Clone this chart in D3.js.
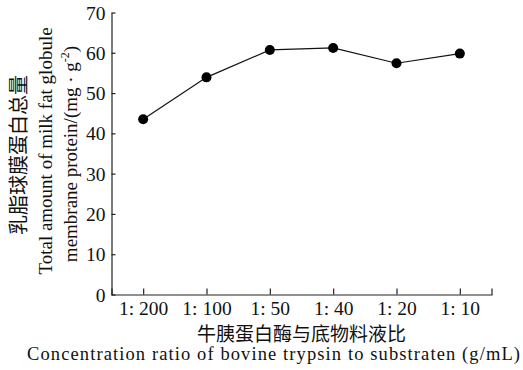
<!DOCTYPE html>
<html><head><meta charset="utf-8">
<script src="https://cdn.jsdelivr.net/npm/d3@7"></script>
<style>body{margin:0;background:#fff;} svg{display:block;}</style>
</head><body>
<svg id="c" width="523" height="370"></svg>
<script>
const categories = ["1: 200", "1: 100", "1: 50", "1: 40", "1: 20", "1: 10"];
const values = [43.5, 53.9, 60.7, 61.2, 57.4, 59.8];
const yTicks = [0, 10, 20, 30, 40, 50, 60, 70];
const xTitleCn = "牛胰蛋白酶与底物料液比";
const xTitleEn = "Concentration ratio of bovine trypsin to substraten (g/mL)";
const yTitleCn = "乳脂球膜蛋白总量";
const yTitleEn1 = "Total amount of milk fat globule";
const yTitleEn2a = "membrane protein/(mg · g";
const yTitleEn2sup = "-2";

const serif = "'Liberation Serif','Times New Roman',serif";
const cjk = "'Noto Sans CJK SC',sans-serif";
const svg = d3.select("#c");
const x = d3.scalePoint().domain(categories).range([111.5, 491.5]).padding(0.5);
const y = d3.scaleLinear().domain([0, 70]).range([294.5, 12.5]);
const ink = "#222";

const gy = svg.append("g").attr("transform", "translate(111.5,0)")
  .call(d3.axisLeft(y).tickValues(yTicks).tickSizeInner(-4).tickSizeOuter(0).tickPadding(6));
const gx = svg.append("g").attr("transform", "translate(0,294.5)")
  .call(d3.axisBottom(x).tickSizeInner(-6).tickSizeOuter(-6).tickPadding(10));
[gx, gy].forEach(g => {
  g.selectAll("path,line").attr("stroke", ink).attr("stroke-width", 1.2);
  g.selectAll("text").attr("fill", "#111").style("font-family", serif).style("font-size", "19.5px");
});
gx.selectAll("text").attr("y", 6.5);
gy.selectAll("text").attr("dy", "0.34em");

const line = d3.line().x((d, i) => x(categories[i])).y(d => y(d));
svg.append("path").datum(values).attr("d", line).attr("fill", "none").attr("stroke", "#111").attr("stroke-width", 1.2);
svg.selectAll("circle.pt").data(values).join("circle").attr("class", "pt")
  .attr("cx", (d, i) => x(categories[i])).attr("cy", d => y(d)).attr("r", 5).attr("fill", "#000");

svg.append("text").attr("x", 301.5).attr("y", 340.5).attr("text-anchor", "middle")
  .style("font-family", cjk).style("font-size", "19px").attr("fill", "#111").text(xTitleCn);
svg.append("text").attr("x", 27).attr("y", 359.5).attr("textLength", 493).attr("lengthAdjust", "spacing")
  .style("font-family", serif).style("font-size", "18.5px").attr("fill", "#111").text(xTitleEn);

const cy = 154;
svg.append("text").attr("transform", `translate(26,155) rotate(-90)`).attr("text-anchor", "middle")
  .style("font-family", cjk).style("font-size", "20px").attr("fill", "#111").text(yTitleCn);
svg.append("text").attr("transform", `translate(52,${cy - 3}) rotate(-90)`).attr("text-anchor", "middle")
  .style("font-family", serif).style("font-size", "19px").attr("fill", "#111").text(yTitleEn1);
const t3 = svg.append("text").attr("transform", `translate(77,${cy}) rotate(-90)`).attr("text-anchor", "middle")
  .style("font-family", serif).style("font-size", "19px").attr("fill", "#111");
t3.append("tspan").text(yTitleEn2a);
t3.append("tspan").attr("dy", -8).style("font-size", "12px").text(yTitleEn2sup);
t3.append("tspan").attr("dy", 8).text(")");
</script>
</body></html>
